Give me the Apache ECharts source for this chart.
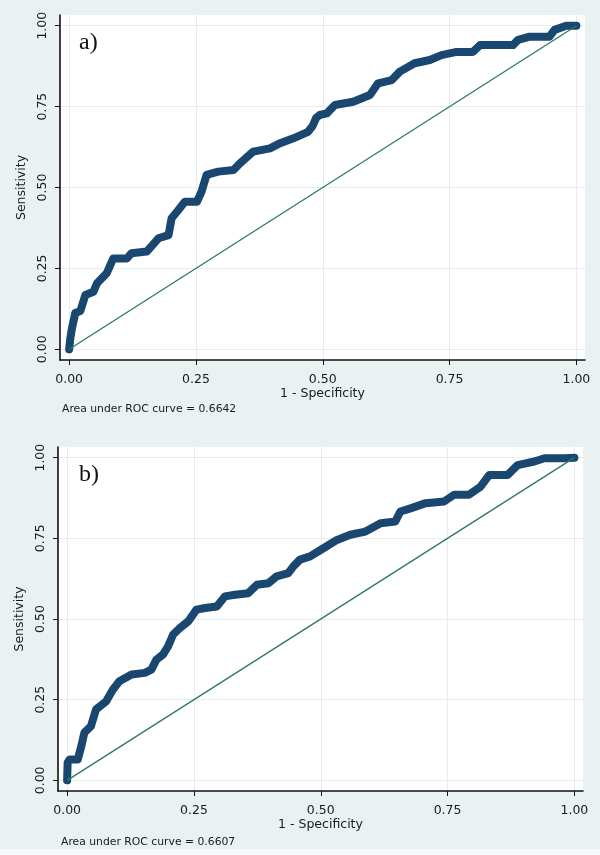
<!DOCTYPE html>
<html>
<head>
<meta charset="utf-8">
<script src="https://cdn.jsdelivr.net/npm/echarts@6/dist/echarts.min.js"></script>
<style>
html,body{margin:0;padding:0;background:#E9F1F3;}
#chart{width:600px;height:855px;}
</style>
</head>
<body>
<div id="chart"></div>
<script>
// ---- data ----
const tickValues = [0, 0.25, 0.5, 0.75, 1];
const tickLabels = ['0.00', '0.25', '0.50', '0.75', '1.00'];
const panelLabels = ['a)', 'b)'];
const aucValues = [0.6642, 0.6607];
const xTitle = '1 - Specificity';
const yTitle = 'Sensitivity';

const fprA = [0, 0.002, 0.005, 0.012, 0.022, 0.032, 0.048, 0.055, 0.074, 0.087, 0.114, 0.123, 0.153, 0.176, 0.196, 0.202, 0.215, 0.228, 0.252, 0.261, 0.271, 0.294, 0.324, 0.337, 0.363, 0.396, 0.416, 0.442, 0.471, 0.48, 0.487, 0.494, 0.508, 0.524, 0.56, 0.593, 0.609, 0.636, 0.652, 0.681, 0.711, 0.734, 0.764, 0.796, 0.81, 0.875, 0.885, 0.908, 0.947, 0.957, 0.98, 1];
const tprA = [0, 0.03, 0.06, 0.112, 0.118, 0.168, 0.178, 0.204, 0.235, 0.281, 0.281, 0.297, 0.302, 0.343, 0.353, 0.405, 0.43, 0.456, 0.456, 0.487, 0.539, 0.549, 0.554, 0.575, 0.611, 0.621, 0.637, 0.652, 0.672, 0.69, 0.715, 0.724, 0.729, 0.755, 0.765, 0.786, 0.822, 0.832, 0.858, 0.884, 0.894, 0.909, 0.919, 0.919, 0.94, 0.94, 0.956, 0.966, 0.966, 0.987, 1, 1];

const fprB = [0, 0.001, 0.005, 0.021, 0.028, 0.034, 0.047, 0.057, 0.077, 0.09, 0.103, 0.127, 0.153, 0.166, 0.176, 0.189, 0.199, 0.209, 0.222, 0.239, 0.255, 0.272, 0.295, 0.311, 0.331, 0.357, 0.374, 0.397, 0.413, 0.436, 0.446, 0.459, 0.479, 0.506, 0.532, 0.558, 0.588, 0.618, 0.647, 0.657, 0.677, 0.707, 0.743, 0.763, 0.792, 0.815, 0.832, 0.868, 0.888, 0.921, 0.941, 0.98, 1];
const tprB = [0, 0.055, 0.065, 0.065, 0.106, 0.148, 0.168, 0.22, 0.245, 0.281, 0.307, 0.328, 0.333, 0.343, 0.374, 0.39, 0.415, 0.452, 0.472, 0.493, 0.529, 0.534, 0.539, 0.57, 0.575, 0.58, 0.606, 0.611, 0.632, 0.642, 0.663, 0.684, 0.694, 0.72, 0.745, 0.761, 0.771, 0.797, 0.802, 0.833, 0.843, 0.859, 0.864, 0.885, 0.885, 0.91, 0.946, 0.946, 0.977, 0.988, 0.998, 0.998, 1];

const diagX = [0, 1];
const diagY = [0, 1];

// ---- build ----
const zip = (xs, ys) => xs.map((x, i) => [x, ys[i]]);
const FONT = 'DejaVu Sans';
const TXT = '#1a1a1a';

function xAxisFor(gi) {
  return {
    type: 'value', gridIndex: gi, min: -0.018, max: 1.017,
    name: xTitle, nameLocation: 'middle', nameGap: 22,
    nameTextStyle: { fontFamily: FONT, fontSize: 12.5, color: TXT },
    axisLine: { show: true, onZero: false, lineStyle: { color: '#111', width: 1.6 } },
    axisTick: { show: true, length: 5, customValues: tickValues, lineStyle: { color: '#111', width: 1 } },
    axisLabel: { customValues: tickValues, margin: 13, fontFamily: FONT, fontSize: 12.5, color: TXT,
      formatter: v => tickLabels[tickValues.indexOf(v)] },
    splitLine: { show: true, lineStyle: { color: '#E4EDF0', width: 1 } }
  };
}
function yAxisFor(gi) {
  return {
    type: 'value', gridIndex: gi, min: -0.033, max: 1.033,
    name: yTitle, nameLocation: 'middle', nameGap: 30,
    nameTextStyle: { fontFamily: FONT, fontSize: 12.5, color: TXT },
    axisLine: { show: true, onZero: false, lineStyle: { color: '#111', width: 1.6 } },
    axisTick: { show: true, length: 5, customValues: tickValues, lineStyle: { color: '#111', width: 1 } },
    axisLabel: { customValues: tickValues, rotate: 90, margin: 11, fontFamily: FONT, fontSize: 12.5, color: TXT,
      formatter: v => tickLabels[tickValues.indexOf(v)] },
    splitLine: { show: true, lineStyle: { color: '#E4EDF0', width: 1 } }
  };
}
function rocSeries(gi, xs, ys) {
  return {
    type: 'line', xAxisIndex: gi, yAxisIndex: gi, data: zip(xs, ys),
    showSymbol: false, symbol: 'none', z: 2,
    lineStyle: { color: '#1A476F', width: 8, cap: 'round', join: 'round' },
    animation: false
  };
}
function diagSeries(gi) {
  return {
    type: 'line', xAxisIndex: gi, yAxisIndex: gi, data: zip(diagX, diagY),
    showSymbol: false, symbol: 'none', z: 3,
    lineStyle: { color: '#2A7A64', width: 1.3 },
    animation: false
  };
}

const chart = echarts.init(document.getElementById('chart'), null, { renderer: 'canvas' });
chart.setOption({
  backgroundColor: '#E9F1F3',
  animation: false,
  grid: [
    { left: 60, top: 15, width: 525, height: 345, show: true, backgroundColor: '#ffffff', borderWidth: 0 },
    { left: 58, top: 447, width: 525, height: 344, show: true, backgroundColor: '#ffffff', borderWidth: 0 }
  ],
  xAxis: [xAxisFor(0), xAxisFor(1)],
  yAxis: [yAxisFor(0), yAxisFor(1)],
  series: [rocSeries(0, fprA, tprA), diagSeries(0), rocSeries(1, fprB, tprB), diagSeries(1)],
  graphic: [
    { type: 'text', left: 79, top: 31, z: 10, style: { text: panelLabels[0], font: '24px "Liberation Serif"', fill: '#111' } },
    { type: 'text', left: 79, top: 463, z: 10, style: { text: panelLabels[1], font: '24px "Liberation Serif"', fill: '#111' } },
    { type: 'text', left: 62, top: 404, z: 10, style: { text: 'Area under ROC curve = ' + aucValues[0].toFixed(4), font: '10.8px "DejaVu Sans"', fill: TXT } },
    { type: 'text', left: 61, top: 837, z: 10, style: { text: 'Area under ROC curve = ' + aucValues[1].toFixed(4), font: '10.8px "DejaVu Sans"', fill: TXT } },
    { type: 'rect', left: 0, top: 849, z: 10, shape: { width: 600, height: 6 }, style: { fill: '#F6F9FA' } }
  ]
});
</script>
</body>
</html>
